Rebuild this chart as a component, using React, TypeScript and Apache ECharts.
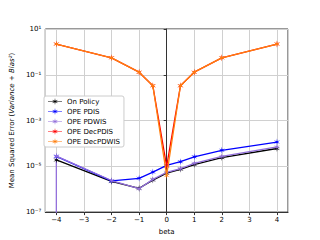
import React, { useEffect, useRef } from "react";
import * as echarts from "echarts";

const betas = [-4, -2, -1, -0.5, 0, 0.5, 1, 2, 4];
const onPolicy = [1.9e-5, 2.2e-6, 1.1e-6, 2.5e-6, 5e-6, 7.4e-6, 1.2e-5, 2.4e-5, 6e-5];
const opePDIS = [2.7e-5, 2.3e-6, 3e-6, 5.6e-6, 1.1e-5, 1.6e-5, 2.6e-5, 5e-5, 1.15e-4];
const opePDWIS = [2.8e-5, 2.4e-6, 1.05e-6, 2.7e-6, 5.5e-6, 8e-6, 1.35e-5, 2.7e-5, 7e-5];
const opeDecPDIS = [2.2, 0.55, 0.13, 0.033, 1e-5, 0.033, 0.13, 0.55, 2.2];
const opeDecPDWIS = [2.2, 0.55, 0.13, 0.033, 4e-6, 0.033, 0.13, 0.55, 2.2];
const pdwisErrBar = [[-4, 2.8e-5], [-4, 1e-9]];
const seriesNames = ["On Policy", "OPE PDIS", "OPE PDWIS", "OPE DecPDIS", "OPE DecPDWIS"];
const colors = ["#000000", "#0000ff", "#9370db", "#ff0000", "#ff7f0e"];

function starPts(cx: number, cy: number, ro: number, ri: number): string {
  const pts: string[] = [];
  for (let i = 0; i < 12; i++) {
    const a = (Math.PI / 6) * i - Math.PI / 2;
    const r = i % 2 === 0 ? ro : ri;
    pts.push((cx + r * Math.cos(a)).toFixed(2) + " " + (cy + r * Math.sin(a)).toFixed(2));
  }
  return "M" + pts.join(" L") + " Z";
}

const supMap: Record<string, string> = { "-": "⁻", "0": "⁰", "1": "¹", "2": "²", "3": "³", "4": "⁴", "5": "⁵", "6": "⁶", "7": "⁷", "8": "⁸", "9": "⁹" };

export default function App() {
  const ref = useRef<HTMLDivElement>(null);
  useEffect(() => {
    if (!ref.current) return;
    const chart = echarts.init(ref.current, null, { renderer: "svg" });
    const sym = "path://" + starPts(10, 10, 10, 2.5);
    const legendIcon = "path://M0 6.4 L28 6.4 L28 7.6 L0 7.6 Z " + starPts(14, 7, 7, 1.8);
    const all = [onPolicy, opePDIS, opePDWIS, opeDecPDIS, opeDecPDWIS];
    const series: any[] = [
      {
        type: "line",
        name: "pdwis-err",
        data: pdwisErrBar,
        showSymbol: false,
        lineStyle: { color: colors[2], width: 1.3 },
        itemStyle: { color: colors[2] },
        z: 2,
        silent: true,
      },
    ];
    all.forEach((vals, i) => {
      series.push({
        type: "line",
        name: seriesNames[i],
        data: betas.map((b, j) => [b, vals[j]]),
        symbol: sym,
        symbolSize: 7,
        symbolKeepAspect: true,
        showSymbol: true,
        lineStyle: { color: colors[i], width: 1.3 },
        itemStyle: { color: colors[i] },
        z: 3 + i,
      });
    });
    chart.setOption({
      animation: false,
      grid: { left: 40, right: 32, top: 29, bottom: 27, show: true, borderColor: "#333", borderWidth: 1, backgroundColor: "transparent" },
      legend: {
        data: seriesNames.map((n) => ({ name: n, icon: legendIcon })),
        orient: "vertical",
        left: 44,
        top: 96,
        backgroundColor: "#ffffff",
        borderColor: "#cccccc",
        borderWidth: 1,
        borderRadius: 2,
        padding: [2, 4, 2, 4],
        itemWidth: 14,
        itemHeight: 7,
        itemGap: 3,
        textStyle: { fontSize: 7, color: "#000", fontFamily: "DejaVu Sans" },
      },
      xAxis: {
        type: "value",
        min: -4.4,
        max: 4.4,
        splitNumber: 8,
        name: "beta",
        nameLocation: "middle",
        nameGap: 15,
        nameTextStyle: { fontSize: 7, color: "#000", fontFamily: "DejaVu Sans" },
        axisLine: { show: true, onZero: false, lineStyle: { color: "#333", width: 1 } },
        axisTick: { show: true, length: 3, lineStyle: { color: "#333" } },
        axisLabel: {
          fontSize: 7,
          color: "#000",
          fontFamily: "DejaVu Sans",
          margin: 4,
          showMinLabel: false,
          showMaxLabel: false,
          formatter: (v: number) => (Number.isInteger(v) ? String(v).replace("-", "−") : ""),
        },
        splitLine: { show: true, lineStyle: { color: "#d0d0d0", width: 1 } },
      },
      yAxis: {
        type: "log",
        logBase: 10,
        min: 1e-7,
        max: 10,
        interval: 2,
        name: "Mean Squared Error ({i|Variance} + {i|Bias²})",
        nameLocation: "middle",
        nameGap: 28,
        nameTextStyle: {
          fontSize: 7,
          color: "#000",
          fontFamily: "DejaVu Sans",
          rich: { i: { fontSize: 7, fontStyle: "italic", fontFamily: "DejaVu Sans", color: "#000" } },
        },
        axisLine: { show: true, lineStyle: { color: "#333", width: 1 } },
        axisTick: { show: true, length: 3, lineStyle: { color: "#333" } },
        axisLabel: {
          fontSize: 7,
          color: "#000",
          fontFamily: "DejaVu Sans",
          margin: 4,
          formatter: (v: number) => {
            const e = Math.round(Math.log10(v));
            return "10" + String(e).split("").map((c) => supMap[c] || c).join("");
          },
        },
        splitLine: { show: true, lineStyle: { color: "#d0d0d0", width: 1 } },
      },
      series,
    });
    return () => chart.dispose();
  }, []);
  return <div ref={ref} style={{ width: 320, height: 240, position: "absolute", left: 0, top: 0 }} />;
}
